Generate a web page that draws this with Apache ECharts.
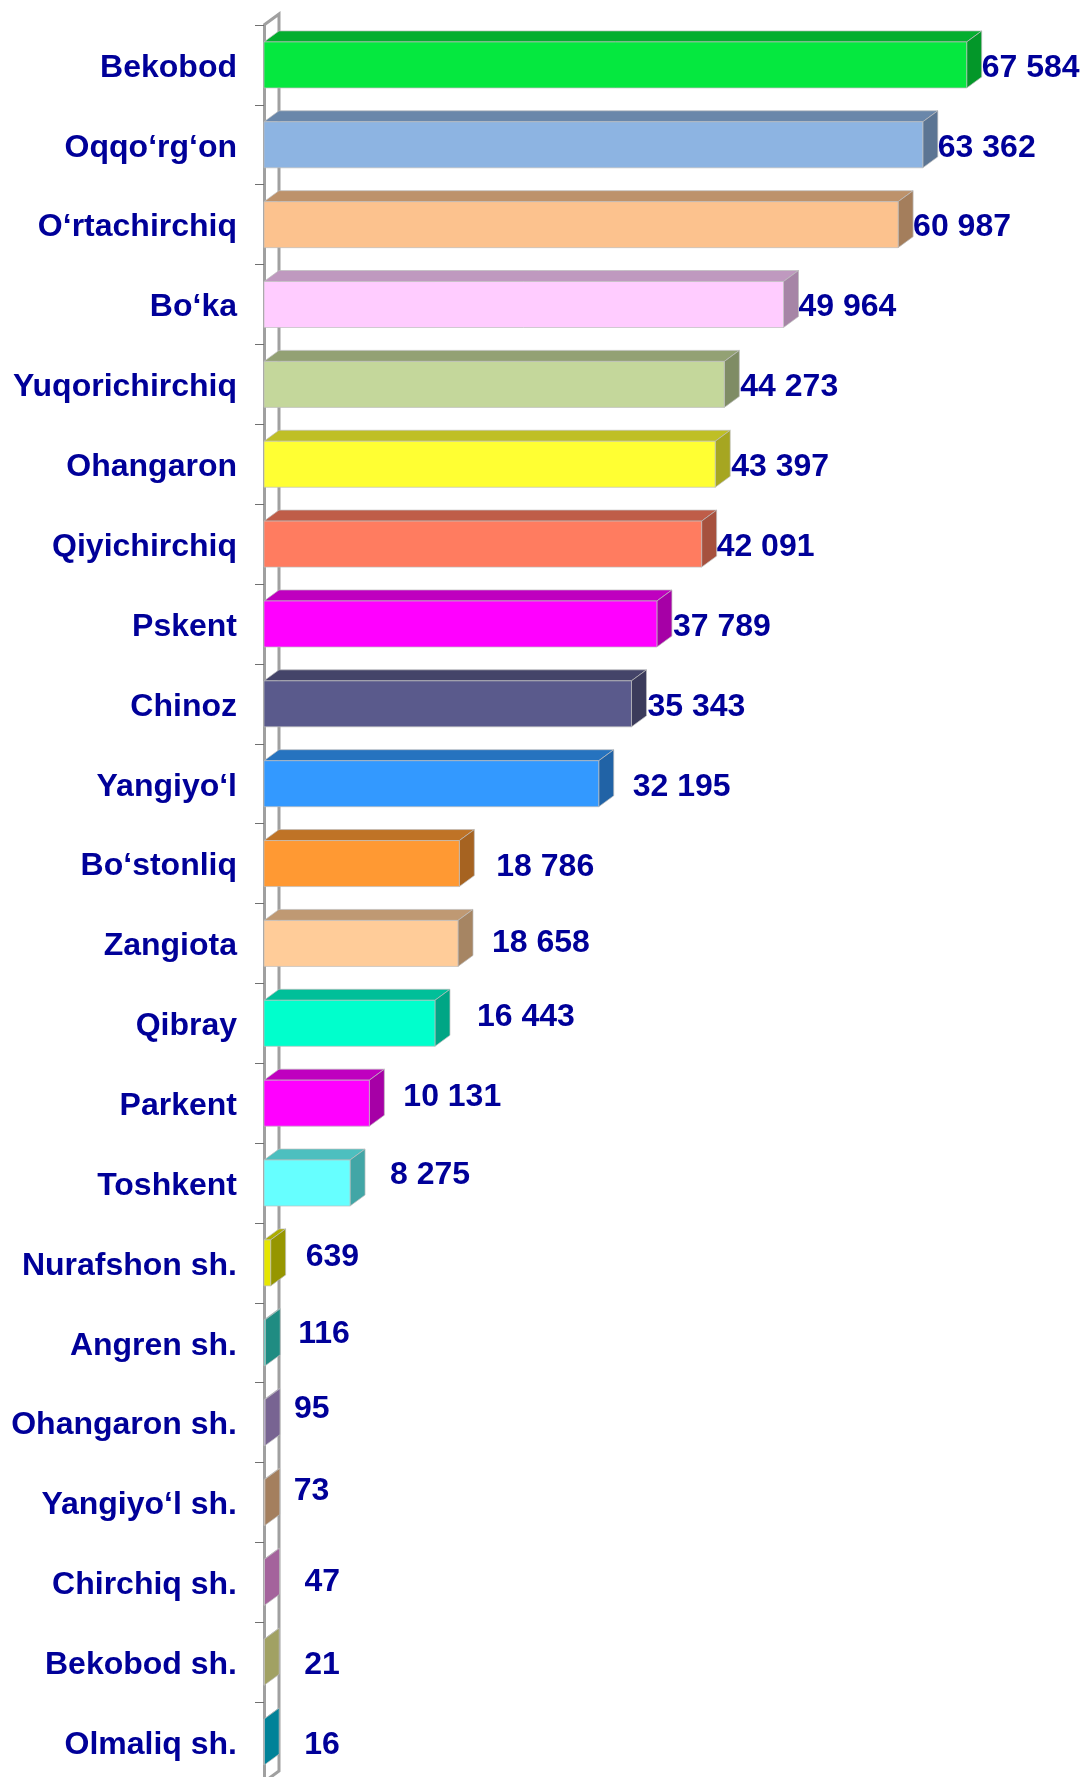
<!DOCTYPE html>
<html>
<head>
<meta charset="utf-8">
<title>Chart</title>
<script src="https://cdn.jsdelivr.net/npm/echarts@6/dist/echarts.min.js"></script>
<style>
  html, body { margin: 0; padding: 0; background: #fff; width: 1082px; height: 1777px; overflow: hidden; }
  #chart { width: 1082px; height: 1800px; }
</style>
</head>
<body>
<div id="chart"></div>
<script>
const categories = ['Bekobod', 'Oqqo‘rg‘on', 'O‘rtachirchiq', 'Bo‘ka', 'Yuqorichirchiq', 'Ohangaron', 'Qiyichirchiq', 'Pskent', 'Chinoz', 'Yangiyo‘l', 'Bo‘stonliq', 'Zangiota', 'Qibray', 'Parkent', 'Toshkent', 'Nurafshon sh.', 'Angren sh.', 'Ohangaron sh.', 'Yangiyo‘l sh.', 'Chirchiq sh.', 'Bekobod sh.', 'Olmaliq sh.']
const values = [67584, 63362, 60987, 49964, 44273, 43397, 42091, 37789, 35343, 32195, 18786, 18658, 16443, 10131, 8275, 639, 116, 95, 73, 47, 21, 16]
const barColors = ['#05e83f', '#8db4e2', '#fcc28e', '#ffccff', '#c4d79b', '#ffff33', '#ff7c60', '#ff00ff', '#5a5a8c', '#3399ff', '#ff9933', '#ffcc99', '#00ffcc', '#ff00ff', '#66ffff', '#e6e600', '#30d8c8', '#b89ae0', '#fcc490', '#fc98f0', '#f8f898', '#00c8ea']
// hand placed data labels in the original, [dx, dy] from the default spot
const labelShift = [[0, 0], [0, 0], [0, 0], [0, 0], [1, 0], [1, 0], [0, 0], [1, 0], [1, 0], [19, 0], [22, 1], [19, -3], [27, -9], [19, -9], [25, -11], [20, -9], [18, -12], [14, -16], [14, -14], [25, -3], [25, 0], [25, 0]]

const textColor = '#000099'
const wallColor = '#a0a0a0'
const depthX = 15
const depthY = 11
const barHeight = 46

const formatValue = (v) => String(v).replace(/\B(?=(\d{3})+$)/g, ' ')

const shade = (hex, k) => {
  const n = parseInt(hex.slice(1), 16)
  const r = Math.round(((n >> 16) & 255) * k)
  const g = Math.round(((n >> 8) & 255) * k)
  const b = Math.round((n & 255) * k)
  return `rgb(${r},${g},${b})`
}

const renderBar = (params, api) => {
  const i = api.value(1)
  const end = api.coord([api.value(0), i])
  const start = api.coord([0, i])
  const top = end[1] - barHeight / 2
  const bottom = end[1] + barHeight / 2
  const color = barColors[i]
  const edge = 'rgba(190,190,190,0.7)'
  return {
    type: 'group',
    children: [
      {
        type: 'polygon',
        shape: { points: [[start[0], top], [start[0] + depthX, top - depthY], [end[0] + depthX, top - depthY], [end[0], top]] },
        style: { fill: shade(color, 0.75), stroke: edge, lineWidth: 1 },
      },
      {
        type: 'polygon',
        shape: { points: [[end[0], top], [end[0] + depthX, top - depthY], [end[0] + depthX, bottom - depthY], [end[0], bottom]] },
        style: { fill: shade(color, 0.65), stroke: edge, lineWidth: 1 },
      },
      {
        type: 'rect',
        shape: { x: start[0], y: top, width: end[0] - start[0], height: barHeight },
        style: { fill: color, stroke: edge, lineWidth: 1 },
      },
      {
        type: 'text',
        x: end[0] + depthX + labelShift[i][0],
        y: end[1] + labelShift[i][1] + 3,
        style: {
          text: formatValue(values[i]),
          fill: textColor,
          font: 'bold 32px "Liberation Sans", Arial, sans-serif',
          align: 'left',
          verticalAlign: 'middle',
        },
      },
    ],
  }
}

// back wall of the 3d plot, behind the bars
const renderWall = (params, api) => {
  const band = api.size([0, 1])[1]
  const first = api.coord([0, 0])
  const x = first[0]
  const y0 = first[1] - band / 2
  const y1 = y0 + band * categories.length
  const lineStyle = { stroke: wallColor, lineWidth: 3, fill: null }
  return {
    type: 'polyline',
    shape: { points: [[x, y0], [x + depthX, y0 - depthY], [x + depthX, y1 - depthY], [x, y1]] },
    style: lineStyle,
  }
}

const chart = echarts.init(document.getElementById('chart'))
chart.setOption({
  animation: false,
  backgroundColor: '#fff',
  grid: { left: 264, top: 25, width: 811, height: 1757 },
  xAxis: { type: 'value', min: 0, max: 78000, show: false },
  yAxis: {
    type: 'category',
    inverse: true,
    data: categories,
    axisLine: { show: true, lineStyle: { color: wallColor, width: 3 } },
    axisTick: { show: true, alignWithLabel: false, length: 9, lineStyle: { color: '#707070', width: 1 } },
    axisLabel: {
      margin: 27,
      interval: 0,
      formatter: '{n|{value}}',
      rich: {
        n: {
          color: textColor,
          padding: [6, 0, 0, 0],
          fontFamily: '"Liberation Sans", Arial, sans-serif',
          fontWeight: 'bold',
          fontSize: 32,
        },
      },
    },
  },
  series: [
    { type: 'custom', clip: false, silent: true, renderItem: renderWall, z: 1, data: [[0, 0]], encode: { x: 0, y: 1 } },
    { type: 'custom', clip: false, silent: true, renderItem: renderBar, z: 2, data: values.map((v, i) => [v, i]), encode: { x: 0, y: 1 } },
  ],
})
</script>
</body>
</html>
